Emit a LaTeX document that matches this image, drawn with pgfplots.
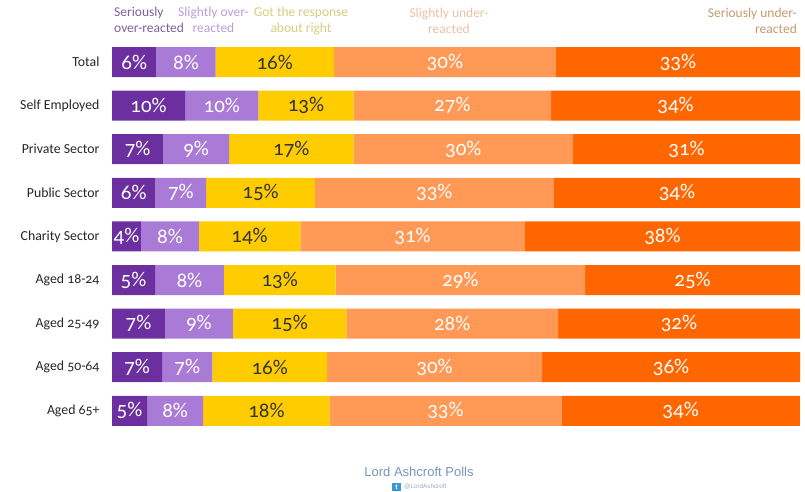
\documentclass[border=0pt]{standalone}
\usepackage{pgfplots}
\usepackage{pgfplotstable}
\pgfplotsset{compat=1.18}
\usepackage{fontspec}
\setmainfont[Numbers=OldStyle]{Carlito}
\newfontfamily\arialf{Liberation Sans}
\definecolor{c1}{HTML}{6B2FA0}
\definecolor{c2}{HTML}{AA7BD6}
\definecolor{c3}{HTML}{FFCC00}
\definecolor{c4}{HTML}{FF9955}
\definecolor{c5}{HTML}{FF6600}
\definecolor{t1}{HTML}{7E5F9E}
\definecolor{t2}{HTML}{B8A0D6}
\definecolor{t3}{HTML}{D8CC80}
\definecolor{t4}{HTML}{E8C4A4}
\definecolor{t5}{HTML}{C49A70}
\definecolor{f1}{HTML}{7396BE}
\definecolor{f2}{HTML}{96AAC3}
\definecolor{f3}{HTML}{3C96D2}
% y = row, w = bar length (share of the row, in %), v = printed value
\pgfplotstableread{
y w v
0 6.45 6
1 10.64 10
2 7.45 7
3 6.32 6
4 4.21 4
5 6.25 5
6 7.69 7
7 7.29 7
8 5.10 5
}\sone
\pgfplotstableread{
y w v
0 8.60 8
1 10.64 10
2 9.57 9
3 7.37 7
4 8.42 8
5 10.00 8
6 9.89 9
7 7.29 7
8 8.16 8
}\stwo
\pgfplotstableread{
y w v
0 17.20 16
1 13.83 13
2 18.09 17
3 15.79 15
4 14.74 14
5 16.25 13
6 16.48 15
7 16.67 16
8 18.37 18
}\sthree
\pgfplotstableread{
y w v
0 32.26 30
1 28.72 27
2 31.91 30
3 34.74 33
4 32.63 31
5 36.25 29
6 30.77 28
7 31.25 30
8 33.67 33
}\sfour
\pgfplotstableread{
y w v
0 35.49 33
1 36.17 34
2 32.98 31
3 35.79 34
4 40.00 38
5 31.25 25
6 35.16 32
7 37.50 36
8 34.69 34
}\sfive
\begin{document}
\begin{tikzpicture}[x=1pt,y=1pt]
\useasboundingbox (0,0) rectangle (805,491);
\begin{axis}[
  at={(112pt,450.8pt)}, anchor=north west,
  scale only axis, x=6.88pt, y=43.6pt, y dir=reverse,
  xmin=0, xmax=100, ymin=-0.5, ymax=8.5,
  xbar stacked, bar width=30pt, bar shift=0pt,
  axis line style={draw=none}, major tick style={draw=none},
  xtick=\empty, ytick={0,...,8},
  yticklabels={Total,Self Employed,Private Sector,Public Sector,Charity Sector,Aged 18-24,Aged 25-49,Aged 50-64,Aged 65+},
  yticklabel style={font=\fontsize{13.8}{15}\selectfont, text=black!85, xshift=-9pt},
  clip=false,
  point meta=explicit symbolic,
  nodes near coords={\pgfplotspointmeta\%},
  nodes near coords style={anchor=center, font=\fontsize{21}{23}\selectfont, inner sep=0pt},
]
\addplot[fill=c1,draw=none,nodes near coords style={text=white}] table[x=w,y=y,meta=v] {\sone};
\addplot[fill=c2,draw=none,nodes near coords style={text=white}] table[x=w,y=y,meta=v] {\stwo};
\addplot[fill=c3,draw=none,nodes near coords style={text=black!80}] table[x=w,y=y,meta=v] {\sthree};
\addplot[fill=c4,draw=none,nodes near coords style={text=white}] table[x=w,y=y,meta=v] {\sfour};
\addplot[fill=c5,draw=none,nodes near coords style={text=white}] table[x=w,y=y,meta=v] {\sfive};
\end{axis}
\tikzset{hd/.style={font=\fontsize{13.5}{16}\selectfont, inner sep=0pt}}
\node[hd,anchor=north west,text=t1,align=left] at (114,484.5) {Seriously\\over-reacted};
\node[hd,anchor=north,text=t2,align=center] at (213.5,484.5) {Slightly over-\\reacted};
\node[hd,anchor=north,text=t3,align=center] at (301,484.5) {Got the response\\about right};
\node[hd,anchor=north,text=t4,align=center] at (449,483) {Slightly under-\\reacted};
\node[hd,anchor=north east,text=t5,align=right] at (797,483) {Seriously under-\\reacted};
\node[font=\arialf\fontsize{13}{15}\selectfont,text=f1,inner sep=0pt] at (419,19) {Lord Ashcroft Polls};
\fill[f3] (392,0.5) rectangle (401,8);
\node[font=\arialf\bfseries\fontsize{7}{7}\selectfont,text=white,inner sep=0pt] at (396.5,4.2) {t};
\node[font=\arialf\fontsize{6.3}{7}\selectfont,text=f2,inner sep=0pt,anchor=west] at (404,4.5) {@LordAshcroft};
\end{tikzpicture}
\end{document}
